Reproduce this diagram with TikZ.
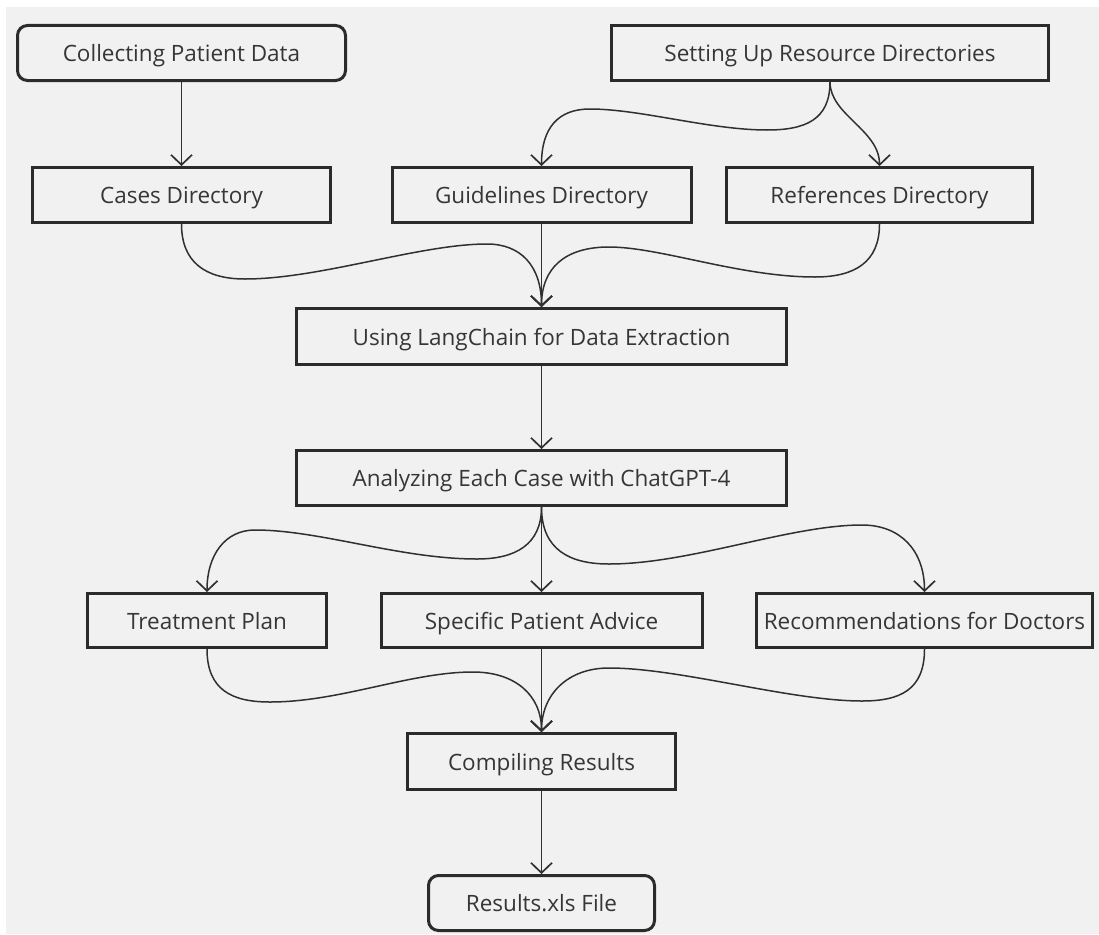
\documentclass[tikz,border=0pt]{standalone}
\usepackage{fontspec}
\setmainfont{Open Sans}
\usetikzlibrary{arrows.meta}
\definecolor{bg}{HTML}{F1F1F1}
\definecolor{edge}{HTML}{2B2B2B}
\definecolor{ink}{HTML}{363636}
\definecolor{wire}{HTML}{303030}
\tikzset{
  box/.style={draw=edge, line width=3pt, fill=bg, text=ink, inner sep=0pt,
    font=\fontsize{22.5}{27}\selectfont, align=center,
    text height=17pt, text depth=0pt},
  rbox/.style={box, rounded corners=10pt},
  conn/.style={draw=wire, line width=1.5pt,
    -{Straight Barb[length=10pt,width=21pt,line width=1.7pt]}}
}
\begin{document}
\begin{tikzpicture}[x=1pt,y=-1pt]
\path[use as bounding box, fill=white] (0,0) rectangle (1099,934);
\fill[bg] (6,7) rectangle (1099,934);

\node[rbox, minimum width=328pt, minimum height=55pt] (collect) at (181.5,53) {Collecting Patient Data};
\node[box, minimum width=437pt, minimum height=55pt] (setup) at (830,53) {Setting Up Resource Directories};
\node[box, minimum width=298pt, minimum height=55pt] (cases) at (181.5,195) {Cases Directory};
\node[box, minimum width=299pt, minimum height=55pt] (guide) at (541.5,195) {Guidelines Directory};
\node[box, minimum width=306pt, minimum height=55pt] (refs) at (879.5,195) {References Directory};
\node[box, minimum width=490pt, minimum height=56pt] (lang) at (541.5,336.5) {Using LangChain for Data Extraction};
\node[box, minimum width=490pt, minimum height=55pt] (ana) at (541.5,478) {Analyzing Each Case with ChatGPT-4};
\node[box, minimum width=239pt, minimum height=54pt] (treat) at (207,620.5) {Treatment Plan};
\node[box, minimum width=321pt, minimum height=54pt] (spec) at (541.5,620.5) {Specific Patient Advice};
\node[box, minimum width=336pt, minimum height=54pt] (rec) at (924.5,620.5) {Recommendations for Doctors};
\node[box, minimum width=268pt, minimum height=56pt] (comp) at (541.5,761.5) {Compiling Results};
\node[rbox, minimum width=226pt, minimum height=55pt] (res) at (541.5,903) {Results.xls File};

% row 1 -> row 2
\draw[conn] (collect.south) -- (cases.north);
\draw[conn] (setup.south) .. controls (830,120) and (805,130) .. (767,130)
  .. controls (710,130) and (640,109) .. (590,109)
  .. controls (558,109) and (541.5,128) .. (guide.north);
\draw[conn] (setup.south) .. controls (830,115) and (879.5,130) .. (refs.north);

% row 2 -> LangChain
\draw[conn] (cases.south) .. controls (181.5,262) and (205,279) .. (245,279)
  .. controls (320,279) and (420,244) .. (487,244)
  .. controls (520,244) and (541.5,265) .. (lang.north);
\draw[conn] (guide.south) -- (lang.north);
\draw[conn] (refs.south) .. controls (879.5,262) and (855,277) .. (815,277)
  .. controls (740,277) and (660,247) .. (609,247)
  .. controls (565,247) and (541.5,268) .. (lang.north);

% LangChain -> Analyzing
\draw[conn] (lang.south) -- (ana.north);

% Analyzing -> row 4
\draw[conn] (ana.south) .. controls (541.5,545) and (515,559) .. (477,559)
  .. controls (400,559) and (320,530) .. (255,530)
  .. controls (225,530) and (207,555) .. (treat.north);
\draw[conn] (ana.south) -- (spec.north);
\draw[conn] (ana.south) .. controls (541.5,550) and (570,564) .. (609,564)
  .. controls (690,564) and (790,525) .. (862,525)
  .. controls (900,525) and (924.5,550) .. (rec.north);

% row 4 -> Compiling
\draw[conn] (treat.south) .. controls (207,690) and (232,702) .. (270,702)
  .. controls (340,702) and (410,672) .. (473,672)
  .. controls (515,672) and (541.5,695) .. (comp.north);
\draw[conn] (spec.south) -- (comp.north);
\draw[conn] (rec.south) .. controls (924.5,690) and (900,701) .. (862,701)
  .. controls (790,701) and (680,668) .. (609,668)
  .. controls (567,668) and (541.5,695) .. (comp.north);

% Compiling -> Results
\draw[conn] (comp.south) -- (res.north);
\end{tikzpicture}
\end{document}
